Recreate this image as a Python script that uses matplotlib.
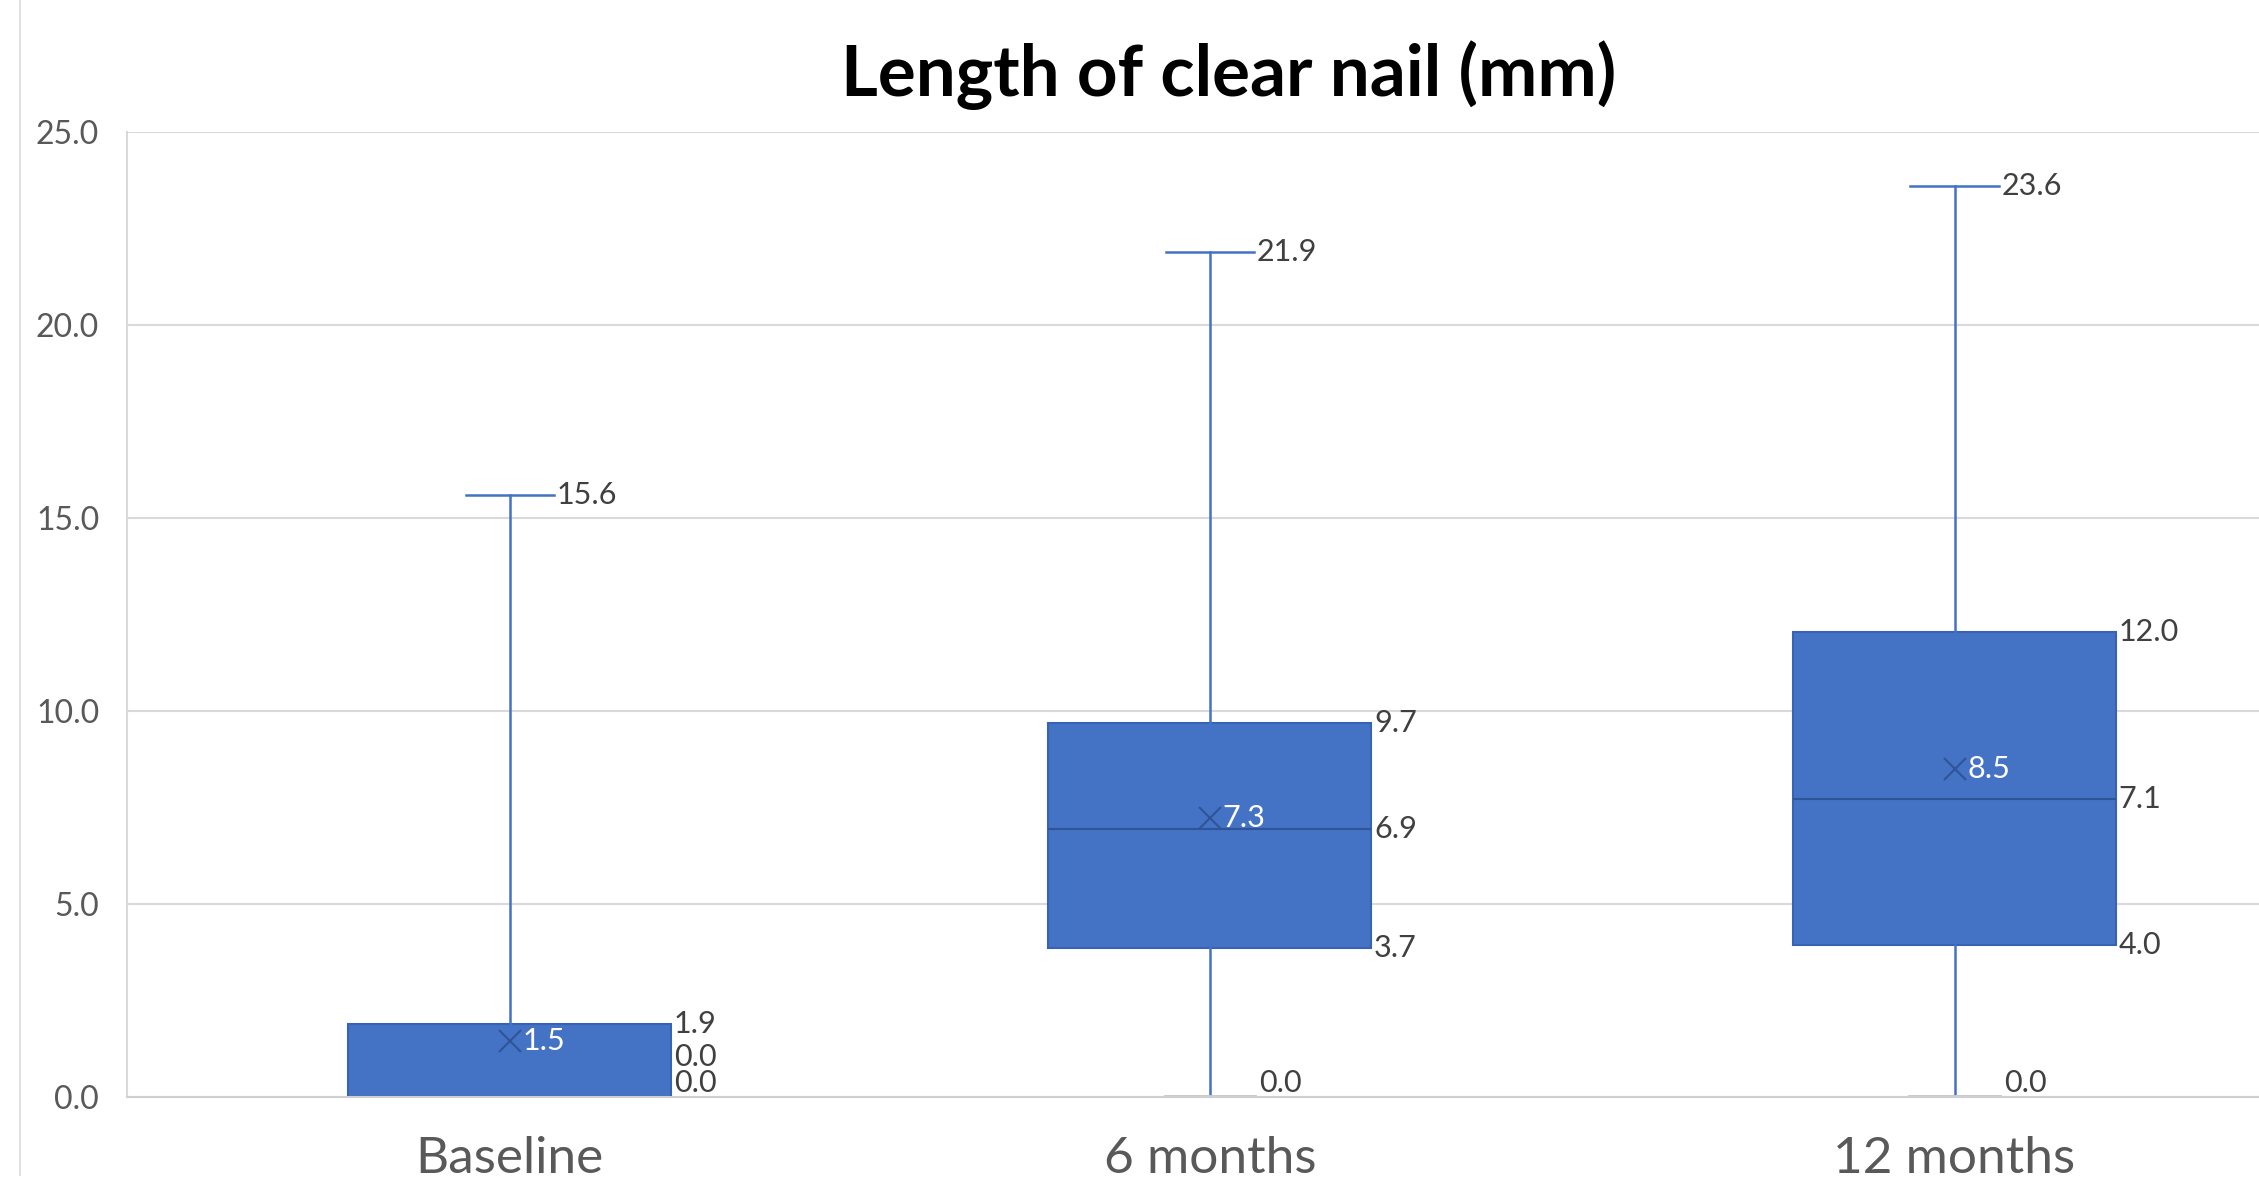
import matplotlib
matplotlib.use('Agg')
import matplotlib.pyplot as plt
from matplotlib.lines import Line2D

plt.rcParams['font.family'] = ['Lato', 'DejaVu Sans']

# data
categories = ['Baseline', '6 months', '12 months']
whisker_low = [0.0, 0.0, 0.0]
q1 = [0.0, 3.85, 3.93]
median = [0.0, 6.93, 7.72]
q3 = [1.9, 9.7, 12.05]
whisker_high = [15.6, 21.9, 23.6]
mean = [1.46, 7.23, 8.5]

# printed data labels (as shown in the chart)
low_labels = ['0.0', '0.0', '0.0']
q1_labels = ['0.0', '3.7', '4.0']
median_labels = ['0.0', '6.9', '7.1']
q3_labels = ['1.9', '9.7', '12.0']
high_labels = ['15.6', '21.9', '23.6']
mean_labels = ['1.5', '7.3', '8.5']
yticks = [0, 5, 10, 15, 20, 25]

# layout
positions = [0, 1, 2.064]
box_w = 0.461
cap_w = 0.126
BLUE, DARK, GRID, TXT = '#4472C4', '#2F5597', '#D9D9D9', '#595959'

fig = plt.figure(figsize=(22.59, 11.9), dpi=100)
ax = fig.add_axes([0.0562, 0.0782, 0.9438, 0.8108])

stats = [dict(label=c, whislo=lo, q1=a, med=m, q3=b, whishi=hi, mean=mu)
         for c, lo, a, m, b, hi, mu in zip(categories, whisker_low, q1, median, q3, whisker_high, mean)]
bp = ax.bxp(stats, positions=positions, widths=box_w, patch_artist=True, showmeans=True,
            showfliers=False, capwidths=cap_w,
            boxprops=dict(facecolor=BLUE, edgecolor='#3763B5', linewidth=1.5),
            whiskerprops=dict(color=BLUE, linewidth=1.8),
            capprops=dict(color=BLUE, linewidth=1.8),
            medianprops=dict(color=DARK, linewidth=1.5),
            meanprops=dict(marker='x', markersize=16, markeredgecolor=DARK, markeredgewidth=1.5),
            zorder=2)
for i in range(len(categories)):
    low_cap = bp['caps'][2 * i]
    if q1[i] == whisker_low[i]:
        low_cap.set_visible(False)
    else:
        low_cap.set_color('#C8C8C8')
        low_cap.set_linewidth(3.5)

ax.set_xlim(-0.547, 2.499)
ax.set_ylim(0, 25)
ax.set_yticks(yticks)
ax.set_yticklabels(['%.1f' % t for t in yticks])
ax.set_xticks(positions)
ax.set_xticklabels(categories)
ax.tick_params(axis='y', length=0, pad=20, labelsize=23, labelcolor=TXT)
ax.tick_params(axis='x', length=0, pad=28, labelsize=37, labelcolor=TXT)
ax.yaxis.grid(True, color=GRID, linewidth=1.5)
ax.set_axisbelow(True)
for s in ['top', 'right']:
    ax.spines[s].set_visible(False)
ax.spines['left'].set_color(GRID)
ax.spines['left'].set_linewidth(1.5)
ax.spines['bottom'].set_color('#CFCFCF')
ax.spines['bottom'].set_linewidth(1.5)

lab = dict(fontsize=22, color='#404040', va='center', ha='left', textcoords='offset points')
for i, x in enumerate(positions):
    right = x + box_w / 2
    ax.annotate(q3_labels[i], (right, q3[i]), xytext=(2, 0), **lab)
    ax.annotate(high_labels[i], (x + cap_w / 2, whisker_high[i]), xytext=(2, 0), **lab)
    if q1[i] == whisker_low[i]:
        # stacked labels where box sits on the axis
        ax.annotate(median_labels[i], (right, median[i]), xytext=(2, 29), **lab)
        ax.annotate(low_labels[i], (right, whisker_low[i]), xytext=(2, 10), **lab)
    else:
        ax.annotate(median_labels[i], (right, median[i]), xytext=(2, 0), **lab)
        ax.annotate(q1_labels[i], (right, q1[i]), xytext=(2, 0), **lab)
        ax.annotate(low_labels[i], (x + cap_w / 2, whisker_low[i]), xytext=(4, 10), **lab)
    ax.annotate(mean_labels[i], (x, mean[i]), xytext=(9, 0), fontsize=22, color='white',
                va='center', ha='left', textcoords='offset points')

fig.text(0.544, 0.937, 'Length of clear nail (mm)', fontsize=51, fontweight='bold',
         ha='center', va='center', color='black')
fig.add_artist(Line2D([0.0089, 0.0089], [0.013, 1.0], color='#E0E0E0', linewidth=1.5))

fig.savefig('out.png', dpi=100)
